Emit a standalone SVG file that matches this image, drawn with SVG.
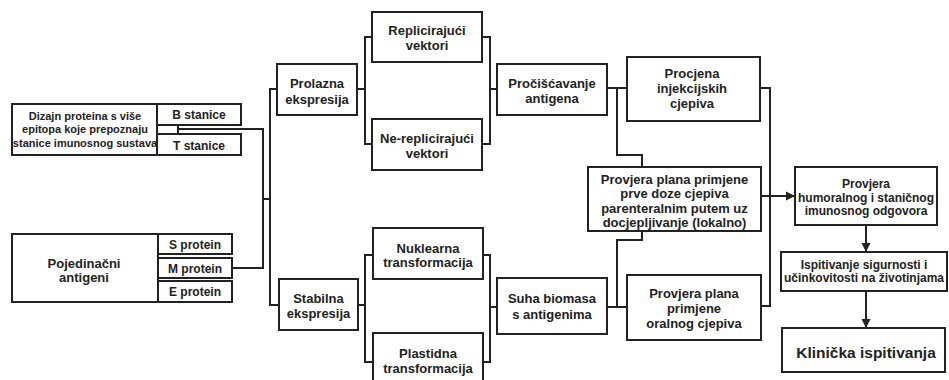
<svg xmlns="http://www.w3.org/2000/svg" width="949" height="380" viewBox="0 0 949 380">
<style>
.b{fill:#fff;stroke:#222;stroke-width:2}
.t{font-family:"Liberation Sans",Arial,sans-serif;font-weight:bold;font-size:13px;fill:#222;text-anchor:middle}
.s{font-size:12px}
.xs{font-size:11px}
.c{fill:none;stroke:#222;stroke-width:2}
</style>
<defs>
<marker id="ah" markerUnits="userSpaceOnUse" markerWidth="10" markerHeight="10" refX="9" refY="5" orient="auto">
<path d="M0,0.5 L9,5 L0,9.5 Z" fill="#222"/>
</marker>
</defs>
<rect width="949" height="380" fill="#fff"/>
<g id="connectors">
<polyline class="c" points="178,129 263,129 263,268 232,268"/>
<polyline class="c" points="263,199 270,199"/>
<polyline class="c" points="277,89 270,89 270,305 279,305"/>
<polyline class="c" points="357,89 365,89"/>
<polyline class="c" points="372,37 365,37 365,144 372,144"/>
<polyline class="c" points="482,37 490,37 490,144 482,144"/>
<polyline class="c" points="490,89 497,89"/>
<polyline class="c" points="358,305 365,305"/>
<polyline class="c" points="373,255 365,255 365,362 373,362"/>
<polyline class="c" points="483,255 490,255 490,362 483,362"/>
<polyline class="c" points="490,307 497,307"/>
<polyline class="c" points="607,88 627,88"/>
<polyline class="c" points="617,88 617,155 642,155 642,167"/>
<polyline class="c" points="607,307 627,307"/>
<polyline class="c" points="617,307 617,240 642,240 642,231"/>
<polyline class="c" points="760,88 770,88 770,306 761,306"/>
<line class="c" x1="761" y1="196" x2="795" y2="196" marker-end="url(#ah)"/>
<line class="c" x1="866" y1="225" x2="866" y2="252" marker-end="url(#ah)"/>
<line class="c" x1="866" y1="291" x2="866" y2="328" marker-end="url(#ah)"/>
</g>
<g id="dizajn">
<rect class="b" x="12" y="104" width="145" height="51"/>
<text class="t xs" x="85" y="120">Dizajn proteina s više</text>
<text class="t xs" x="85" y="133">epitopa koje prepoznaju</text>
<text class="t xs" x="85" y="147">stanice imunosnog sustava</text>
</g>
<g id="b-stanice">
<rect class="b" x="157" y="104" width="84" height="21"/>
<text class="t s" x="199" y="119">B stanice</text>
</g>
<g id="spacer">
<rect class="b" x="157" y="125" width="21" height="9"/>
</g>
<g id="t-stanice">
<rect class="b" x="157" y="134" width="84" height="21"/>
<text class="t s" x="199" y="149.5">T stanice</text>
</g>
<g id="pojedinacni">
<rect class="b" x="12" y="234" width="146" height="68"/>
<text class="t" x="84" y="267.5">Pojedinačni</text>
<text class="t" x="84" y="282">antigeni</text>
</g>
<g id="s-protein">
<rect class="b" x="158" y="234" width="74" height="20"/>
<text class="t s" x="195" y="248.5">S protein</text>
</g>
<g id="m-protein">
<rect class="b" x="158" y="258" width="74" height="20"/>
<text class="t s" x="195" y="272.5">M protein</text>
</g>
<g id="e-protein">
<rect class="b" x="158" y="281" width="74" height="21"/>
<text class="t s" x="195" y="296">E protein</text>
</g>
<g id="prolazna">
<rect class="b" x="277" y="64" width="80" height="51"/>
<text class="t" x="317" y="88">Prolazna</text>
<text class="t" x="317" y="103.5">ekspresija</text>
</g>
<g id="stabilna">
<rect class="b" x="279" y="279" width="79" height="51"/>
<text class="t" x="318.5" y="302.5">Stabilna</text>
<text class="t" x="318.5" y="317.5">ekspresija</text>
</g>
<g id="replicirajuci">
<rect class="b" x="372" y="12" width="110" height="50"/>
<text class="t" x="427" y="34.5">Replicirajući</text>
<text class="t" x="427" y="49.5">vektori</text>
</g>
<g id="ne-replicirajuci">
<rect class="b" x="372" y="119" width="110" height="51"/>
<text class="t" x="427" y="142.5">Ne-replicirajući</text>
<text class="t" x="427" y="157.5">vektori</text>
</g>
<g id="nuklearna">
<rect class="b" x="373" y="228" width="110" height="51"/>
<text class="t" x="428" y="252.5">Nuklearna</text>
<text class="t" x="428" y="266.5">transformacija</text>
</g>
<g id="plastidna">
<rect class="b" x="373" y="333" width="110" height="55"/>
<text class="t" x="428" y="357.5">Plastidna</text>
<text class="t" x="428" y="372.5">transformacija</text>
</g>
<g id="prociscavanje">
<rect class="b" x="497" y="64" width="110" height="51"/>
<text class="t" x="552" y="87.5">Pročišćavanje</text>
<text class="t" x="552" y="102.5">antigena</text>
</g>
<g id="suha">
<rect class="b" x="497" y="278" width="110" height="56"/>
<text class="t" x="552" y="302.5">Suha biomasa</text>
<text class="t" x="552" y="318.5">s antigenima</text>
</g>
<g id="procjena">
<rect class="b" x="627" y="57" width="133" height="64"/>
<text class="t" x="692" y="77.5">Procjena</text>
<text class="t" x="692" y="92.5">injekcijskih</text>
<text class="t" x="692" y="107.5">cjepiva</text>
</g>
<g id="prve-doze">
<rect class="b" x="588" y="167" width="173" height="64"/>
<text class="t" x="674.5" y="183.5">Provjera plana primjene</text>
<text class="t" x="674.5" y="198">prve doze cjepiva</text>
<text class="t" x="674.5" y="212.5">parenteralnim putem uz</text>
<text class="t" x="674.5" y="227">docjepljivanje (lokalno)</text>
</g>
<g id="oralnog">
<rect class="b" x="627" y="275" width="134" height="65"/>
<text class="t" x="694" y="297.5">Provjera plana</text>
<text class="t" x="694" y="312.5">primjene</text>
<text class="t" x="694" y="327.5">oralnog cjepiva</text>
</g>
<g id="humoralnog">
<rect class="b" x="795" y="167" width="142" height="58"/>
<text class="t s" x="866" y="187.5">Provjera</text>
<text class="t s" x="866" y="201.5">humoralnog i staničnog</text>
<text class="t s" x="866" y="215">imunosnog odgovora</text>
</g>
<g id="ispitivanje">
<rect class="b" x="781" y="252" width="166" height="39"/>
<text class="t s" x="864" y="268.5">Ispitivanje sigurnosti i</text>
<text class="t s" x="864" y="282">učinkovitosti na životinjama</text>
</g>
<g id="klinicka">
<rect class="b" x="782" y="328" width="163" height="44"/>
<text class="t" style="font-size:15.5px" x="866" y="357.5">Klinička ispitivanja</text>
</g>
</svg>
